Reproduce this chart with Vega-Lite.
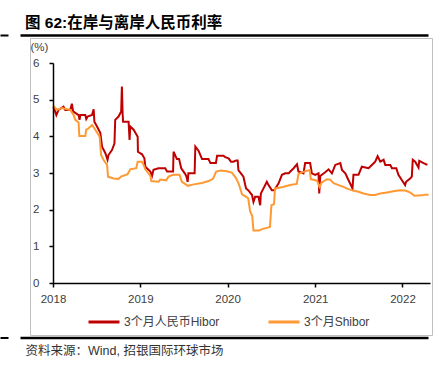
{
  "$schema": "https://vega.github.io/schema/vega-lite/v6.json",
  "width": 402,
  "height": 297,
  "autosize": {"type": "none"},
  "padding": {"left": 30, "top": 38, "right": 14, "bottom": 30},
  "background": "white",
  "title": {"text": "图 62:在岸与离岸人民币利率", "anchor": "start", "frame": "group", "dx": -5, "dy": 19, "offset": 11, "baseline": "alphabetic", "font": "Liberation Sans, Noto Sans CJK SC", "fontSize": 15.5, "fontWeight": "bold", "color": "#000000"},
  "config": {"view": {"stroke": "#BFBFBF", "strokeWidth": 1}, "font": "Liberation Sans"},
  "datasets": {
    "rates": [
      {"date": "2018-01-03", "series": "3个月人民币Hibor", "value": 4.81},
      {"date": "2018-01-15", "series": "3个月人民币Hibor", "value": 4.58},
      {"date": "2018-01-24", "series": "3个月人民币Hibor", "value": 4.72},
      {"date": "2018-02-14", "series": "3个月人民币Hibor", "value": 4.81},
      {"date": "2018-02-21", "series": "3个月人民币Hibor", "value": 4.72},
      {"date": "2018-03-14", "series": "3个月人民币Hibor", "value": 4.72},
      {"date": "2018-03-21", "series": "3个月人民币Hibor", "value": 4.89},
      {"date": "2018-03-26", "series": "3个月人民币Hibor", "value": 4.68},
      {"date": "2018-04-18", "series": "3个月人民币Hibor", "value": 4.58},
      {"date": "2018-04-22", "series": "3个月人民币Hibor", "value": 4.45},
      {"date": "2018-04-25", "series": "3个月人民币Hibor", "value": 4.58},
      {"date": "2018-05-16", "series": "3个月人民币Hibor", "value": 4.58},
      {"date": "2018-05-20", "series": "3个月人民币Hibor", "value": 4.47},
      {"date": "2018-05-26", "series": "3个月人民币Hibor", "value": 4.54},
      {"date": "2018-06-13", "series": "3个月人民币Hibor", "value": 4.58},
      {"date": "2018-06-20", "series": "3个月人民币Hibor", "value": 4.74},
      {"date": "2018-06-23", "series": "3个月人民币Hibor", "value": 4.40},
      {"date": "2018-07-04", "series": "3个月人民币Hibor", "value": 4.27},
      {"date": "2018-07-18", "series": "3个月人民币Hibor", "value": 4.09},
      {"date": "2018-07-25", "series": "3个月人民币Hibor", "value": 3.72},
      {"date": "2018-08-08", "series": "3个月人民币Hibor", "value": 3.54},
      {"date": "2018-08-17", "series": "3个月人民币Hibor", "value": 3.36},
      {"date": "2018-08-21", "series": "3个月人民币Hibor", "value": 3.49},
      {"date": "2018-09-05", "series": "3个月人民币Hibor", "value": 3.63},
      {"date": "2018-09-15", "series": "3个月人民币Hibor", "value": 3.81},
      {"date": "2018-09-18", "series": "3个月人民币Hibor", "value": 4.45},
      {"date": "2018-10-02", "series": "3个月人民币Hibor", "value": 4.54},
      {"date": "2018-10-13", "series": "3个月人民币Hibor", "value": 4.68},
      {"date": "2018-10-16", "series": "3个月人民币Hibor", "value": 5.36},
      {"date": "2018-10-19", "series": "3个月人民币Hibor", "value": 4.63},
      {"date": "2018-10-21", "series": "3个月人民币Hibor", "value": 4.40},
      {"date": "2018-11-13", "series": "3个月人民币Hibor", "value": 4.40},
      {"date": "2018-11-17", "series": "3个月人民币Hibor", "value": 3.90},
      {"date": "2018-11-20", "series": "3个月人民币Hibor", "value": 4.27},
      {"date": "2018-12-04", "series": "3个月人民币Hibor", "value": 4.18},
      {"date": "2018-12-21", "series": "3个月人民币Hibor", "value": 3.99},
      {"date": "2018-12-22", "series": "3个月人民币Hibor", "value": 3.58},
      {"date": "2019-01-08", "series": "3个月人民币Hibor", "value": 3.51},
      {"date": "2019-01-18", "series": "3个月人民币Hibor", "value": 3.40},
      {"date": "2019-01-22", "series": "3个月人民币Hibor", "value": 3.17},
      {"date": "2019-02-12", "series": "3个月人民币Hibor", "value": 3.04},
      {"date": "2019-02-19", "series": "3个月人民币Hibor", "value": 2.92},
      {"date": "2019-02-25", "series": "3个月人民币Hibor", "value": 3.09},
      {"date": "2019-03-18", "series": "3个月人民币Hibor", "value": 3.13},
      {"date": "2019-04-15", "series": "3个月人民币Hibor", "value": 3.13},
      {"date": "2019-04-23", "series": "3个月人民币Hibor", "value": 3.04},
      {"date": "2019-05-18", "series": "3个月人民币Hibor", "value": 3.04},
      {"date": "2019-05-20", "series": "3个月人民币Hibor", "value": 3.58},
      {"date": "2019-06-03", "series": "3个月人民币Hibor", "value": 3.38},
      {"date": "2019-06-12", "series": "3个月人民币Hibor", "value": 3.38},
      {"date": "2019-06-16", "series": "3个月人民币Hibor", "value": 3.27},
      {"date": "2019-06-21", "series": "3个月人民币Hibor", "value": 3.13},
      {"date": "2019-07-08", "series": "3个月人民币Hibor", "value": 2.97},
      {"date": "2019-07-13", "series": "3个月人民币Hibor", "value": 2.90},
      {"date": "2019-07-18", "series": "3个月人民币Hibor", "value": 2.76},
      {"date": "2019-07-21", "series": "3个月人民币Hibor", "value": 2.99},
      {"date": "2019-08-16", "series": "3个月人民币Hibor", "value": 2.99},
      {"date": "2019-08-19", "series": "3个月人民币Hibor", "value": 3.72},
      {"date": "2019-09-02", "series": "3个月人民币Hibor", "value": 3.60},
      {"date": "2019-09-16", "series": "3个月人民币Hibor", "value": 3.38},
      {"date": "2019-10-13", "series": "3个月人民币Hibor", "value": 3.38},
      {"date": "2019-10-21", "series": "3个月人民币Hibor", "value": 3.27},
      {"date": "2019-11-13", "series": "3个月人民币Hibor", "value": 3.27},
      {"date": "2019-11-18", "series": "3个月人民币Hibor", "value": 3.47},
      {"date": "2019-12-15", "series": "3个月人民币Hibor", "value": 3.47},
      {"date": "2019-12-22", "series": "3个月人民币Hibor", "value": 3.43},
      {"date": "2020-01-05", "series": "3个月人民币Hibor", "value": 3.40},
      {"date": "2020-01-15", "series": "3个月人民币Hibor", "value": 3.31},
      {"date": "2020-01-25", "series": "3个月人民币Hibor", "value": 3.31},
      {"date": "2020-02-05", "series": "3个月人民币Hibor", "value": 3.34},
      {"date": "2020-02-12", "series": "3个月人民币Hibor", "value": 3.34},
      {"date": "2020-02-15", "series": "3个月人民币Hibor", "value": 3.08},
      {"date": "2020-03-07", "series": "3个月人民币Hibor", "value": 2.90},
      {"date": "2020-03-18", "series": "3个月人民币Hibor", "value": 2.58},
      {"date": "2020-03-27", "series": "3个月人民币Hibor", "value": 2.53},
      {"date": "2020-04-12", "series": "3个月人民币Hibor", "value": 2.40},
      {"date": "2020-04-18", "series": "3个月人民币Hibor", "value": 2.21},
      {"date": "2020-04-25", "series": "3个月人民币Hibor", "value": 2.35},
      {"date": "2020-05-09", "series": "3个月人民币Hibor", "value": 2.35},
      {"date": "2020-05-16", "series": "3个月人民币Hibor", "value": 2.12},
      {"date": "2020-05-19", "series": "3个月人民币Hibor", "value": 2.44},
      {"date": "2020-05-30", "series": "3个月人民币Hibor", "value": 2.58},
      {"date": "2020-06-13", "series": "3个月人民币Hibor", "value": 2.76},
      {"date": "2020-06-20", "series": "3个月人民币Hibor", "value": 2.67},
      {"date": "2020-07-04", "series": "3个月人民币Hibor", "value": 2.53},
      {"date": "2020-07-14", "series": "3个月人民币Hibor", "value": 2.53},
      {"date": "2020-08-01", "series": "3个月人民币Hibor", "value": 2.72},
      {"date": "2020-08-15", "series": "3个月人民币Hibor", "value": 2.95},
      {"date": "2020-08-29", "series": "3个月人民币Hibor", "value": 2.99},
      {"date": "2020-09-12", "series": "3个月人民币Hibor", "value": 2.99},
      {"date": "2020-09-19", "series": "3个月人民币Hibor", "value": 3.04},
      {"date": "2020-10-03", "series": "3个月人民币Hibor", "value": 3.13},
      {"date": "2020-10-17", "series": "3个月人民币Hibor", "value": 3.24},
      {"date": "2020-10-23", "series": "3个月人民币Hibor", "value": 3.04},
      {"date": "2020-11-13", "series": "3个月人民币Hibor", "value": 2.99},
      {"date": "2020-11-20", "series": "3个月人民币Hibor", "value": 3.27},
      {"date": "2020-12-11", "series": "3个月人民币Hibor", "value": 3.27},
      {"date": "2020-12-18", "series": "3个月人民币Hibor", "value": 2.99},
      {"date": "2021-01-01", "series": "3个月人民币Hibor", "value": 2.95},
      {"date": "2021-01-15", "series": "3个月人民币Hibor", "value": 2.99},
      {"date": "2021-01-18", "series": "3个月人民币Hibor", "value": 2.44},
      {"date": "2021-01-22", "series": "3个月人民币Hibor", "value": 2.92},
      {"date": "2021-02-12", "series": "3个月人民币Hibor", "value": 3.02},
      {"date": "2021-02-26", "series": "3个月人民币Hibor", "value": 3.10},
      {"date": "2021-03-12", "series": "3个月人民币Hibor", "value": 2.99},
      {"date": "2021-03-26", "series": "3个月人民币Hibor", "value": 3.22},
      {"date": "2021-04-16", "series": "3个月人民币Hibor", "value": 3.27},
      {"date": "2021-04-23", "series": "3个月人民币Hibor", "value": 3.08},
      {"date": "2021-05-07", "series": "3个月人民币Hibor", "value": 2.99},
      {"date": "2021-05-20", "series": "3个月人民币Hibor", "value": 2.81},
      {"date": "2021-06-06", "series": "3个月人民币Hibor", "value": 2.58},
      {"date": "2021-06-10", "series": "3个月人民币Hibor", "value": 2.95},
      {"date": "2021-07-01", "series": "3个月人民币Hibor", "value": 2.95},
      {"date": "2021-07-15", "series": "3个月人民币Hibor", "value": 3.17},
      {"date": "2021-08-12", "series": "3个月人民币Hibor", "value": 3.13},
      {"date": "2021-08-26", "series": "3个月人民币Hibor", "value": 3.22},
      {"date": "2021-09-09", "series": "3个月人民币Hibor", "value": 3.31},
      {"date": "2021-09-19", "series": "3个月人民币Hibor", "value": 3.46},
      {"date": "2021-09-30", "series": "3个月人民币Hibor", "value": 3.31},
      {"date": "2021-10-14", "series": "3个月人民币Hibor", "value": 3.36},
      {"date": "2021-10-21", "series": "3个月人民币Hibor", "value": 3.22},
      {"date": "2021-11-11", "series": "3个月人民币Hibor", "value": 3.22},
      {"date": "2021-11-18", "series": "3个月人民币Hibor", "value": 3.13},
      {"date": "2021-12-06", "series": "3个月人民币Hibor", "value": 3.13},
      {"date": "2021-12-15", "series": "3个月人民币Hibor", "value": 2.95},
      {"date": "2021-12-29", "series": "3个月人民币Hibor", "value": 2.81},
      {"date": "2022-01-12", "series": "3个月人民币Hibor", "value": 2.67},
      {"date": "2022-01-16", "series": "3个月人民币Hibor", "value": 2.76},
      {"date": "2022-02-02", "series": "3个月人民币Hibor", "value": 2.85},
      {"date": "2022-02-09", "series": "3个月人民币Hibor", "value": 2.90},
      {"date": "2022-02-13", "series": "3个月人民币Hibor", "value": 3.36},
      {"date": "2022-02-23", "series": "3个月人民币Hibor", "value": 3.31},
      {"date": "2022-03-09", "series": "3个月人民币Hibor", "value": 3.15},
      {"date": "2022-03-12", "series": "3个月人民币Hibor", "value": 3.33},
      {"date": "2022-03-30", "series": "3个月人民币Hibor", "value": 3.27},
      {"date": "2022-04-15", "series": "3个月人民币Hibor", "value": 3.22},
      {"date": "2018-01-03", "series": "3个月Shibor", "value": 4.83},
      {"date": "2018-01-18", "series": "3个月Shibor", "value": 4.72},
      {"date": "2018-02-08", "series": "3个月Shibor", "value": 4.77},
      {"date": "2018-03-01", "series": "3个月Shibor", "value": 4.74},
      {"date": "2018-03-14", "series": "3个月Shibor", "value": 4.72},
      {"date": "2018-03-28", "series": "3个月Shibor", "value": 4.58},
      {"date": "2018-04-04", "series": "3个月Shibor", "value": 4.45},
      {"date": "2018-04-18", "series": "3个月Shibor", "value": 4.38},
      {"date": "2018-04-21", "series": "3个月Shibor", "value": 4.01},
      {"date": "2018-05-16", "series": "3个月Shibor", "value": 4.01},
      {"date": "2018-05-20", "series": "3个月Shibor", "value": 4.18},
      {"date": "2018-05-30", "series": "3个月Shibor", "value": 4.22},
      {"date": "2018-06-13", "series": "3个月Shibor", "value": 4.31},
      {"date": "2018-06-27", "series": "3个月Shibor", "value": 4.18},
      {"date": "2018-07-15", "series": "3个月Shibor", "value": 3.99},
      {"date": "2018-07-21", "series": "3个月Shibor", "value": 3.49},
      {"date": "2018-07-31", "series": "3个月Shibor", "value": 3.36},
      {"date": "2018-08-15", "series": "3个月Shibor", "value": 3.22},
      {"date": "2018-08-19", "series": "3个月Shibor", "value": 2.90},
      {"date": "2018-09-11", "series": "3个月Shibor", "value": 2.85},
      {"date": "2018-10-02", "series": "3个月Shibor", "value": 2.84},
      {"date": "2018-10-12", "series": "3个月Shibor", "value": 2.90},
      {"date": "2018-11-09", "series": "3个月Shibor", "value": 2.97},
      {"date": "2018-11-20", "series": "3个月Shibor", "value": 3.10},
      {"date": "2018-12-15", "series": "3个月Shibor", "value": 3.13},
      {"date": "2018-12-21", "series": "3个月Shibor", "value": 3.31},
      {"date": "2019-01-08", "series": "3个月Shibor", "value": 3.31},
      {"date": "2019-01-15", "series": "3个月Shibor", "value": 3.22},
      {"date": "2019-01-22", "series": "3个月Shibor", "value": 3.10},
      {"date": "2019-02-05", "series": "3个月Shibor", "value": 2.98},
      {"date": "2019-02-12", "series": "3个月Shibor", "value": 2.92},
      {"date": "2019-02-16", "series": "3个月Shibor", "value": 2.78},
      {"date": "2019-03-18", "series": "3个月Shibor", "value": 2.76},
      {"date": "2019-03-25", "series": "3个月Shibor", "value": 2.82},
      {"date": "2019-04-19", "series": "3个月Shibor", "value": 2.80},
      {"date": "2019-04-29", "series": "3个月Shibor", "value": 2.90},
      {"date": "2019-05-18", "series": "3个月Shibor", "value": 2.95},
      {"date": "2019-06-14", "series": "3个月Shibor", "value": 2.95},
      {"date": "2019-06-24", "series": "3个月Shibor", "value": 2.76},
      {"date": "2019-07-19", "series": "3个月Shibor", "value": 2.65},
      {"date": "2019-08-12", "series": "3个月Shibor", "value": 2.69},
      {"date": "2019-09-16", "series": "3个月Shibor", "value": 2.73},
      {"date": "2019-10-13", "series": "3个月Shibor", "value": 2.78},
      {"date": "2019-11-01", "series": "3个月Shibor", "value": 2.84},
      {"date": "2019-11-14", "series": "3个月Shibor", "value": 3.04},
      {"date": "2019-12-04", "series": "3个月Shibor", "value": 3.07},
      {"date": "2019-12-29", "series": "3个月Shibor", "value": 3.05},
      {"date": "2020-01-19", "series": "3个月Shibor", "value": 3.01},
      {"date": "2020-02-05", "series": "3个月Shibor", "value": 2.86},
      {"date": "2020-02-17", "series": "3个月Shibor", "value": 2.70},
      {"date": "2020-03-01", "series": "3个月Shibor", "value": 2.42},
      {"date": "2020-03-14", "series": "3个月Shibor", "value": 2.37},
      {"date": "2020-03-27", "series": "3个月Shibor", "value": 2.31},
      {"date": "2020-04-04", "series": "3个月Shibor", "value": 1.96},
      {"date": "2020-04-13", "series": "3个月Shibor", "value": 1.82},
      {"date": "2020-04-18", "series": "3个月Shibor", "value": 1.43},
      {"date": "2020-05-12", "series": "3个月Shibor", "value": 1.43},
      {"date": "2020-05-24", "series": "3个月Shibor", "value": 1.47},
      {"date": "2020-06-16", "series": "3个月Shibor", "value": 1.51},
      {"date": "2020-06-26", "series": "3个月Shibor", "value": 1.53},
      {"date": "2020-07-02", "series": "3个月Shibor", "value": 2.12},
      {"date": "2020-07-13", "series": "3个月Shibor", "value": 2.15},
      {"date": "2020-07-17", "series": "3个月Shibor", "value": 2.58},
      {"date": "2020-08-19", "series": "3个月Shibor", "value": 2.62},
      {"date": "2020-09-18", "series": "3个月Shibor", "value": 2.67},
      {"date": "2020-10-16", "series": "3个月Shibor", "value": 2.70},
      {"date": "2020-10-23", "series": "3个月Shibor", "value": 2.97},
      {"date": "2020-11-12", "series": "3个月Shibor", "value": 3.03},
      {"date": "2020-12-09", "series": "3个月Shibor", "value": 3.08},
      {"date": "2020-12-14", "series": "3个月Shibor", "value": 2.83},
      {"date": "2021-01-09", "series": "3个月Shibor", "value": 2.79},
      {"date": "2021-01-19", "series": "3个月Shibor", "value": 2.62},
      {"date": "2021-01-29", "series": "3个月Shibor", "value": 2.74},
      {"date": "2021-02-19", "series": "3个月Shibor", "value": 2.83},
      {"date": "2021-03-05", "series": "3个月Shibor", "value": 2.82},
      {"date": "2021-03-19", "series": "3个月Shibor", "value": 2.72},
      {"date": "2021-04-09", "series": "3个月Shibor", "value": 2.67},
      {"date": "2021-04-29", "series": "3个月Shibor", "value": 2.62},
      {"date": "2021-05-20", "series": "3个月Shibor", "value": 2.56},
      {"date": "2021-06-10", "series": "3个月Shibor", "value": 2.52},
      {"date": "2021-07-01", "series": "3个月Shibor", "value": 2.49},
      {"date": "2021-07-22", "series": "3个月Shibor", "value": 2.44},
      {"date": "2021-08-19", "series": "3个月Shibor", "value": 2.40},
      {"date": "2021-09-09", "series": "3个月Shibor", "value": 2.40},
      {"date": "2021-09-30", "series": "3个月Shibor", "value": 2.44},
      {"date": "2021-10-28", "series": "3个月Shibor", "value": 2.47},
      {"date": "2021-11-24", "series": "3个月Shibor", "value": 2.50},
      {"date": "2021-12-22", "series": "3个月Shibor", "value": 2.53},
      {"date": "2022-01-12", "series": "3个月Shibor", "value": 2.52},
      {"date": "2022-01-26", "series": "3个月Shibor", "value": 2.49},
      {"date": "2022-02-09", "series": "3个月Shibor", "value": 2.44},
      {"date": "2022-02-19", "series": "3个月Shibor", "value": 2.38},
      {"date": "2022-03-23", "series": "3个月Shibor", "value": 2.39},
      {"date": "2022-04-06", "series": "3个月Shibor", "value": 2.41},
      {"date": "2022-04-20", "series": "3个月Shibor", "value": 2.41}
    ]
  },
  "layer": [
    {
      "layer": [
        {
          "data": {"values": [{}]},
          "mark": {"type": "rule", "color": "#BFBFBF", "strokeWidth": 1},
          "encoding": {
            "y": {"datum": 6, "type": "quantitative"},
            "x": {"datum": "2018-01-01", "type": "temporal"},
            "x2": {"datum": "2022-04-26"}
          }
        },
        {
          "data": {"name": "rates"},
          "mark": {"type": "line", "strokeWidth": 2},
          "encoding": {
            "x": {
              "field": "date", "type": "temporal",
              "scale": {"type": "utc", "domain": ["2018-01-01", "2022-04-26"], "range": [23, 400]},
              "axis": {"orient": "bottom", "offset": -52, "format": "%Y", "tickCount": "year", "labelFlush": false, "labelOverlap": false, "grid": false,
                "domainColor": "#000000", "domainWidth": 1.5, "tickColor": "#000000", "tickWidth": 1.5, "tickSize": 4,
                "labelFont": "Liberation Sans", "labelFontSize": 11.5, "labelColor": "#404040", "labelPadding": 6, "zindex": 1,
                "title": "资料来源：Wind, 招银国际环球市场", "titleX": -5, "titleY": 67, "titleAlign": "left", "titleBaseline": "middle", "titleAnchor": "start",
                "titleFont": "Liberation Sans, Noto Sans CJK SC", "titleFontSize": 12.5, "titleFontWeight": "normal", "titleColor": "#333333"}
            },
            "y": {
              "field": "value", "type": "quantitative",
              "scale": {"domain": [0, 6], "range": [245, 25], "nice": false, "zero": false},
              "axis": {"orient": "left", "offset": -23, "values": [0, 1, 2, 3, 4, 5, 6], "grid": false,
                "domainColor": "#000000", "domainWidth": 1.5, "tickColor": "#000000", "tickWidth": 1.5, "tickSize": 4,
                "labelFont": "Liberation Sans", "labelFontSize": 11.5, "labelColor": "#404040", "labelPadding": 10, "zindex": 1,
                "title": "(%)", "titleAngle": 0, "titleX": -23, "titleY": 9, "titleAlign": "left", "titleBaseline": "middle",
                "titleFont": "Liberation Sans", "titleFontSize": 11.5, "titleFontWeight": "normal", "titleColor": "#404040"}
            },
            "color": {
              "field": "series", "type": "nominal",
              "scale": {"domain": ["3个月人民币Hibor", "3个月Shibor"], "range": ["#C00000", "#FF9933"]},
              "legend": {"orient": "none", "legendX": 57, "legendY": 267, "direction": "horizontal", "title": null,
                "symbolType": "stroke", "symbolSize": 961, "symbolStrokeWidth": 3, "labelOffset": 3, "columnPadding": 42,
                "labelFont": "Liberation Sans, Noto Sans CJK SC", "labelFontSize": 12, "labelColor": "#404040"}
            }
          }
        }
      ]
    },
    {
      "data": {"values": [{}]},
      "mark": {"type": "point", "opacity": 0},
      "encoding": {
        "x": {"datum": 0, "type": "quantitative", "scale": {"domain": [0, 1], "range": [-10, 398]},
          "axis": {"orient": "top", "offset": 3, "domainColor": "#000000", "domainWidth": 2.5, "ticks": false, "labels": false, "grid": false, "title": null}}
      }
    },
    {
      "data": {"values": [{}]},
      "mark": {"type": "point", "opacity": 0},
      "encoding": {
        "x": {"datum": 0, "type": "quantitative", "scale": {"domain": [0, 1], "range": [-10, 398]},
          "axis": {"orient": "bottom", "offset": 2.5, "domainColor": "#000000", "domainWidth": 2.5, "ticks": false, "labels": false, "grid": false, "title": null}}
      }
    },
    {
      "data": {"values": [{}]},
      "mark": {"type": "point", "opacity": 0},
      "encoding": {
        "x": {"datum": 0, "type": "quantitative", "scale": {"domain": [0, 1], "range": [-30, -22]},
          "axis": {"orient": "top", "offset": 3, "domainColor": "#000000", "domainWidth": 2, "ticks": false, "labels": false, "grid": false, "title": null}}
      }
    },
    {
      "data": {"values": [{}]},
      "mark": {"type": "point", "opacity": 0},
      "encoding": {
        "x": {"datum": 0, "type": "quantitative", "scale": {"domain": [0, 1], "range": [-30, -22]},
          "axis": {"orient": "bottom", "offset": 2.5, "domainColor": "#000000", "domainWidth": 2, "ticks": false, "labels": false, "grid": false, "title": null}}
      }
    }
  ],
  "resolve": {"scale": {"x": "independent"}, "axis": {"x": "independent"}}
}
